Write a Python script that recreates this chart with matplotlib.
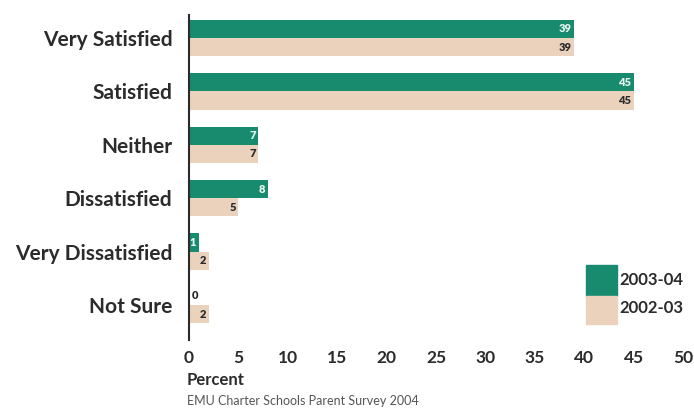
import numpy as np
import matplotlib.pyplot as plt
from matplotlib.patches import Rectangle

# survey answers, top to bottom
categories = ["Very Satisfied", "Satisfied", "Neither", "Dissatisfied",
              "Very Dissatisfied", "Not Sure"]
pct_2003_04 = [39, 45, 7, 8, 1, 0]
pct_2002_03 = [39, 45, 7, 5, 2, 2]
series_labels = ["2003-04", "2002-03"]
x_ticks = [0, 5, 10, 15, 20, 25, 30, 35, 40, 45, 50]

TEAL = "#188b6f"
BEIGE = "#ebd2bc"
DARK = "#2b2b2b"

plt.rcParams['font.family'] = ['Lato', 'DejaVu Sans']

fig = plt.figure(figsize=(6.94, 4.12), dpi=100)
ax = fig.add_axes([189 / 694, 1 - 340 / 412, 494 / 694, 325 / 412])

y = np.arange(len(categories))
h = 0.34
ax.barh(y - h / 2, pct_2003_04, height=h, color=TEAL)
ax.barh(y + h / 2, pct_2002_03, height=h, color=BEIGE)

# value labels at the bar ends
for yi, v in zip(y, pct_2003_04):
    if v > 0:
        ax.text(v - 0.25, yi - h / 2, str(v), ha='right', va='center',
                color='#e8f6f2', fontsize=8, fontweight='heavy')
    else:
        ax.text(0.3, yi - h / 2, str(v), ha='left', va='center',
                color=DARK, fontsize=8, fontweight='heavy')
for yi, v in zip(y, pct_2002_03):
    ax.text(v - 0.25, yi + h / 2, str(v), ha='right', va='center',
            color=DARK, fontsize=8, fontweight='heavy')

ax.set_xlim(0, 50)
ax.set_ylim(5.655, -0.43)
ax.set_xticks(x_ticks)
ax.set_xticklabels([str(t) for t in x_ticks], fontsize=12.5, fontweight='bold', color=DARK)
ax.set_yticks(y)
ax.set_yticklabels(categories, fontsize=15, fontweight='bold', color=DARK)
ax.tick_params(axis='both', length=0)
ax.tick_params(axis='x', pad=7)
ax.tick_params(axis='y', pad=12)

for side in ['top', 'right', 'bottom']:
    ax.spines[side].set_visible(False)
ax.spines['left'].set_color(DARK)
ax.spines['left'].set_linewidth(1.5)

# legend as two stacked swatches
ax.add_patch(Rectangle((0.804, 0.135), 0.063, 0.095, transform=ax.transAxes,
                       color=TEAL, clip_on=False))
ax.add_patch(Rectangle((0.804, 0.049), 0.063, 0.086, transform=ax.transAxes,
                       color=BEIGE, clip_on=False))
ax.text(0.872, 0.185, series_labels[0], transform=ax.transAxes, ha='left',
        va='center', fontsize=12, fontweight='bold', color=DARK)
ax.text(0.872, 0.098, series_labels[1], transform=ax.transAxes, ha='left',
        va='center', fontsize=12, fontweight='bold', color=DARK)

fig.text(187 / 694, 1 - 380 / 412, "Percent", ha='left', va='center',
         fontsize=12, fontweight='bold', color=DARK)
fig.text(187 / 694, 1 - 401 / 412, "EMU Charter Schools Parent Survey 2004",
         ha='left', va='center', fontsize=9, color='#555555')

fig.savefig("out.png", dpi=100, facecolor='white')
